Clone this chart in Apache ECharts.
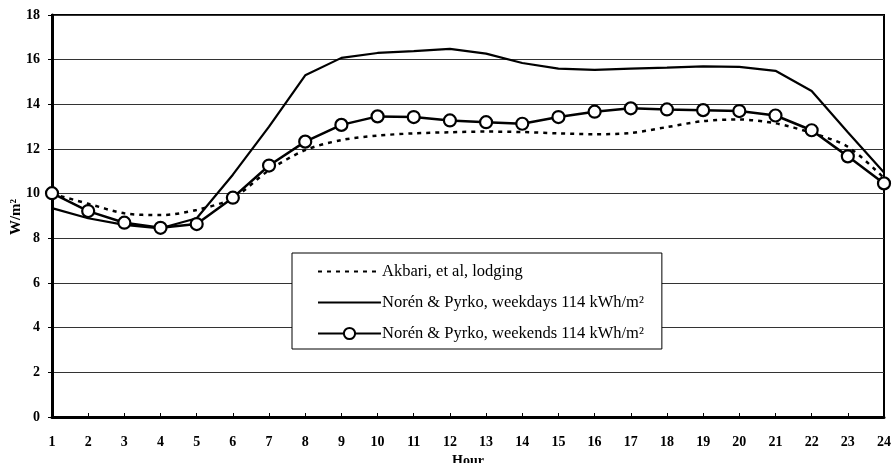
<!DOCTYPE html>
<html>
<head>
<meta charset="utf-8">
<script src="https://cdn.jsdelivr.net/npm/echarts@6/dist/echarts.min.js"></script>
<style>html,body{margin:0;padding:0;background:#fff}#c{width:894px;height:463px}</style>
</head>
<body>
<div id="c"></div>
<script>
const hours = ['1','2','3','4','5','6','7','8','9','10','11','12','13','14','15','16','17','18','19','20','21','22','23','24'];
const akbari = [10.0, 9.55, 9.12, 9.04, 9.27, 9.8, 11.05, 11.95, 12.4, 12.6, 12.7, 12.75, 12.78, 12.76, 12.7, 12.66, 12.72, 12.98, 13.25, 13.32, 13.15, 12.72, 12.1, 10.7];
const weekdays = [9.35, 8.9, 8.6, 8.45, 8.9, 10.85, 13.0, 15.3, 16.08, 16.3, 16.38, 16.48, 16.27, 15.85, 15.6, 15.54, 15.6, 15.64, 15.7, 15.68, 15.5, 14.6, 12.75, 10.95];
const weekends = [10.02, 9.22, 8.70, 8.47, 8.64, 9.82, 11.26, 12.33, 13.08, 13.46, 13.43, 13.28, 13.2, 13.13, 13.43, 13.67, 13.82, 13.77, 13.74, 13.7, 13.5, 12.84, 11.67, 10.46];
const seriesNames = ['Akbari, et al, lodging', 'Norén & Pyrko, weekdays 114 kWh/m²', 'Norén & Pyrko, weekends 114 kWh/m²'];

const serif = '"Liberation Serif", "DejaVu Serif", serif';
const hidden = {color: 'rgba(0,0,0,0)', borderColor: 'rgba(0,0,0,0)', borderWidth: 0};
const chart = echarts.init(document.getElementById('c'));
chart.setOption({
  animation: false,
  backgroundColor: '#fff',
  grid: {left: 52, right: 10, top: 15, bottom: 46, show: true, borderColor: '#000', borderWidth: 2, outerBoundsMode: 'none', containLabel: false},
  legend: {
    orient: 'vertical', left: 292, top: 253,
    backgroundColor: '#fff', borderColor: '#000', borderWidth: 1,
    padding: [10, 18, 7, 25], itemGap: 14, itemWidth: 63, itemHeight: 14,
    textStyle: {fontFamily: serif, fontSize: 16.5, color: '#000', padding: [0,0,0,-4]},
    data: [
      {name: seriesNames[0], itemStyle: hidden},
      {name: seriesNames[1], itemStyle: hidden},
      {name: seriesNames[2]}
    ]
  },
  xAxis: {
    type: 'category', data: hours, boundaryGap: false,
    name: 'Hour', nameLocation: 'middle', nameGap: 35,
    nameTextStyle: {fontFamily: serif, fontSize: 14, fontWeight: 'bold', color: '#000'},
    axisLine: {lineStyle: {color: '#000', width: 3}},
    axisTick: {show: true, inside: true, length: 4, lineStyle: {color: '#000'}},
    axisLabel: {fontFamily: serif, fontSize: 14, fontWeight: 'bold', color: '#000', margin: 18},
    splitLine: {show: false}
  },
  yAxis: {
    type: 'value', min: 0, max: 18, interval: 2,
    axisLine: {show: true, lineStyle: {color: '#000', width: 3}},
    axisTick: {show: true, length: 4, lineStyle: {color: '#000'}},
    axisLabel: {fontFamily: serif, fontSize: 14, fontWeight: 'bold', color: '#000', margin: 12},
    splitLine: {lineStyle: {color: '#333', width: 1}}
  },
  graphic: [{
    type: 'text', x: 16, y: 217, rotation: Math.PI / 2,
    style: {text: 'W/m²', fontFamily: serif, fontSize: 15, fontWeight: 'bold', fill: '#000', align: 'center', verticalAlign: 'middle'}
  }],
  series: [
    {name: seriesNames[0], type: 'line', data: akbari, smooth: 0.3, symbol: 'none',
     lineStyle: {color: '#000', width: 2.5, type: [4, 5]}, itemStyle: {color: '#000'}, z: 2},
    {name: seriesNames[1], type: 'line', data: weekdays, symbol: 'none',
     lineStyle: {color: '#000', width: 2.2}, itemStyle: {color: '#000'}, z: 3},
    {name: seriesNames[2], type: 'line', data: weekends, symbol: 'circle', symbolSize: 12, showSymbol: true,
     lineStyle: {color: '#000', width: 2.5}, itemStyle: {color: '#fff', borderColor: '#000', borderWidth: 2.2}, z: 4}
  ]
});
</script>
</body>
</html>
